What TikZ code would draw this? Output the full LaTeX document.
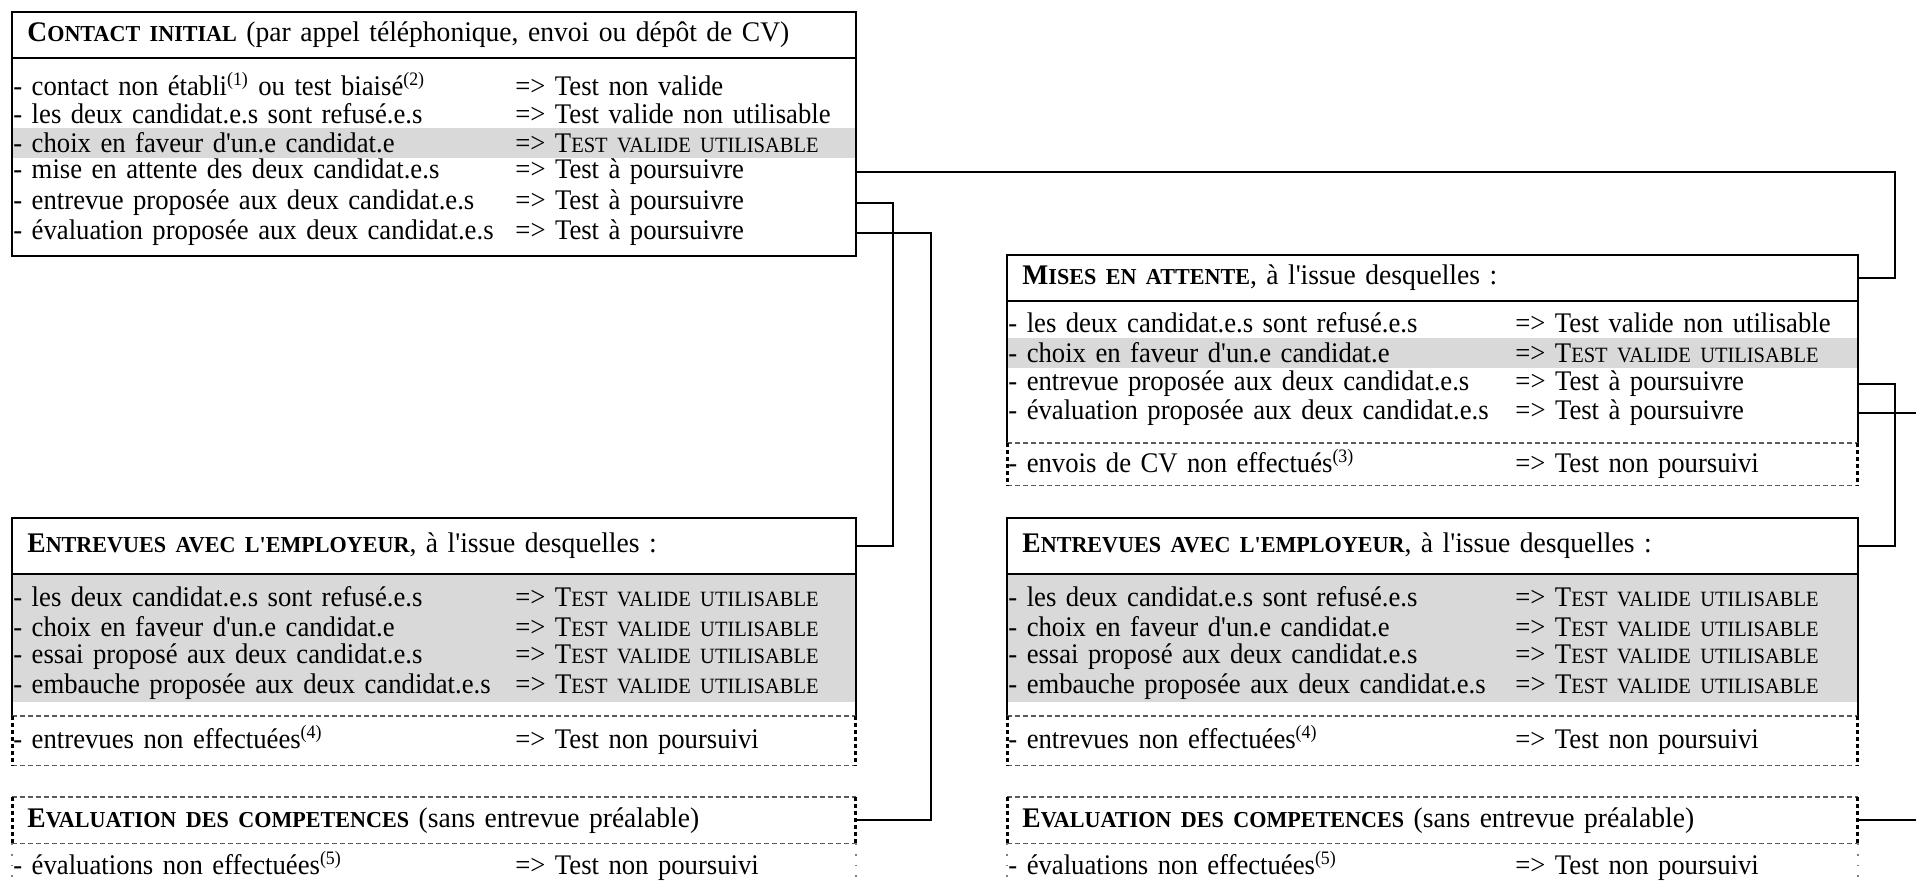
\documentclass[tikz,border=0pt]{standalone}
\usepackage{fontspec}
\newfontfamily\tnr{Liberation Serif}[FakeStretch=0.94]
\newfontfamily\tnrh{Liberation Serif}[FakeStretch=0.97]
\definecolor{rowgray}{RGB}{217,217,217}
\newcommand\SCap[2]{#1{\fontsize{11.4}{12}\selectfont #2}}
\newcommand\SCapR[2]{#1{\fontsize{10.9}{12}\selectfont #2}}
\newcommand\TVU{\SCapR{T}{EST VALIDE UTILISABLE}}
\newcommand\fnr[1]{\textsuperscript{\fontsize{9.5}{10}\selectfont(#1)}}
\newcommand\colL[1]{\makebox[251pt][l]{#1}}
\newcommand\colR[1]{\makebox[253.5pt][l]{#1}}
\tikzset{
  txt/.style={font=\tnr\fontsize{14.2}{15}\selectfont},
  htxt/.style={font=\tnrh\fontsize{14.2}{15}\selectfont},
  frame/.style={inner sep=0, anchor=north west},
  solidline/.style={line width=1pt},
  conn/.style={line width=1pt},
  hdrL/.style={htxt, anchor=north west, inner xsep=7.5pt, inner ysep=0, text width=406.5pt, align=left},
  hdrR/.style={hdrL, text width=410pt},
  rowL/.style={txt, anchor=west, inner xsep=0.5pt, inner ysep=0, text width=420.5pt, minimum height=15pt, align=left},
  rowR/.style={rowL, text width=424pt},
  dashH/.style={draw=black!65, line width=0.6pt, dash pattern=on 2.5pt off 1.5pt},
  dashV/.style={draw=black, line width=1.5pt, dash pattern=on 2pt off 1.5pt},
  dotV/.style={draw=black!50, line width=0.9pt, dash pattern=on 0.9pt off 4.5pt},
}
\begin{document}
\begin{tikzpicture}[x=0.5pt,y=-0.5pt]
\useasboundingbox (0,0) rectangle (1916,883);
\clip (0,0) rectangle (1916,883);

% ---------- CONTACT INITIAL ----------
\node[frame, minimum width=421.5pt, minimum height=121.5pt] (ci) at (12,12) {};
\node[hdrL, minimum height=22.5pt] (cih) at (12,12) {\textbf{\SCap{C}{ONTACT INITIAL}} (par appel téléphonique, envoi ou dépôt de CV)};
\node[rowL] (cir1) at (12,84) {\colL{- contact non établi\fnr{1} ou test biaisé\fnr{2}}=> Test non valide};
\node[rowL] (cir2) at (12,114) {\colL{- les deux candidat.e.s sont refusé.e.s}=> Test valide non utilisable};
\node[rowL, fill=rowgray] (cir3) at (12,143) {\colL{- choix en faveur d'un.e candidat.e}=> \TVU};
\node[rowL] (cir4) at (12,172) {\colL{- mise en attente des deux candidat.e.s}=> Test à poursuivre};
\node[rowL] (cir5) at (12,203) {\colL{- entrevue proposée aux deux candidat.e.s}=> Test à poursuivre};
\node[rowL] (cir6) at (12,233) {\colL{- évaluation proposée aux deux candidat.e.s}=> Test à poursuivre};
\draw[solidline] (ci.north west) rectangle (ci.south east);
\draw[solidline] (cih.south west) -- (cih.south east);

% ---------- MISES EN ATTENTE ----------
\node[frame, minimum width=425pt, minimum height=94pt] (ma) at (1007,255) {};
\node[hdrR, minimum height=22.5pt] (mah) at (1007,255) {\textbf{\SCap{M}{ISES EN ATTENTE}}, à l'issue desquelles :};
\node[rowR] (mar1) at (1007,323) {\colR{- les deux candidat.e.s sont refusé.e.s}=> Test valide non utilisable};
\node[rowR, fill=rowgray] (mar2) at (1007,353) {\colR{- choix en faveur d'un.e candidat.e}=> \TVU};
\node[rowR] (mar3) at (1007,384) {\colR{- entrevue proposée aux deux candidat.e.s}=> Test à poursuivre};
\node[rowR] (mar4) at (1007,413) {\colR{- évaluation proposée aux deux candidat.e.s}=> Test à poursuivre};
\draw[solidline] (ma.south west) -- (ma.north west) -- (ma.north east) -- (ma.south east);
\draw[solidline] (mah.south west) -- (mah.south east);
\node[frame, minimum width=425pt, minimum height=21pt] (mad) at (1007,443) {};
\node[rowR] (mad1) at (1007,464) {\colR{- envois de CV non effectués\fnr{3}}=> Test non poursuivi};
\draw[dashH] (mad.north west) -- (mad.north east) (mad.south west) -- (mad.south east);
\draw[dashV] (mad.north west) -- (mad.south west) (mad.north east) -- (mad.south east);

% ---------- ENTREVUES (gauche) ----------
\node[frame, minimum width=421.5pt, minimum height=99pt] (enl) at (12,518) {};
\node[frame, fill=rowgray, minimum width=421.5pt, minimum height=64.5pt] (enlg) at (12,573) {};
\node[hdrL, minimum height=27.5pt] (enlh) at (12,518) {\textbf{\SCap{E}{NTREVUES AVEC L'EMPLOYEUR}}, à l'issue desquelles :};
\node[rowL] (enlr1) at (12,597) {\colL{- les deux candidat.e.s sont refusé.e.s}=> \TVU};
\node[rowL] (enlr2) at (12,627) {\colL{- choix en faveur d'un.e candidat.e}=> \TVU};
\node[rowL] (enlr3) at (12,657) {\colL{- essai proposé aux deux candidat.e.s}=> \TVU};
\node[rowL] (enlr4) at (12,687) {\colL{- embauche proposée aux deux candidat.e.s}=> \TVU};
\draw[solidline] (enl.south west) -- (enl.north west) -- (enl.north east) -- (enl.south east);
\draw[solidline] (enlh.south west) -- (enlh.south east);
\node[frame, minimum width=421.5pt, minimum height=24.5pt] (enld) at (12,716) {};
\node[rowL] (enld1) at (12,740) {\colL{- entrevues non effectuées\fnr{4}}=> Test non poursuivi};
\draw[dashH] (enld.north west) -- (enld.north east) (enld.south west) -- (enld.south east);
\draw[dashV] (enld.north west) -- (enld.south west) (enld.north east) -- (enld.south east);

% ---------- EVALUATION (gauche) ----------
\node[hdrL, minimum height=23pt] (evlh) at (12,797) {\textbf{\SCap{E}{VALUATION DES COMPETENCES}} (sans entrevue préalable)};
\node[frame, minimum width=421.5pt, minimum height=28.5pt] (evlb) at (12,843) {};
\node[rowL] (evlr1) at (12,866) {\colL{- évaluations non effectuées\fnr{5}}=> Test non poursuivi};
\draw[dashH] (evlh.north west) -- (evlh.north east) (evlh.south west) -- (evlh.south east);
\draw[dashV] (evlh.north west) -- (evlh.south west) (evlh.north east) -- (evlh.south east);
\draw[dotV] (evlb.north west) -- (evlb.south west) (evlb.north east) -- (evlb.south east);

% ---------- ENTREVUES (droite) ----------
\node[frame, minimum width=425pt, minimum height=99pt] (enr) at (1007,518) {};
\node[frame, fill=rowgray, minimum width=425pt, minimum height=64.5pt] (enrg) at (1007,573) {};
\node[hdrR, minimum height=27.5pt] (enrh) at (1007,518) {\textbf{\SCap{E}{NTREVUES AVEC L'EMPLOYEUR}}, à l'issue desquelles :};
\node[rowR] (enrr1) at (1007,597) {\colR{- les deux candidat.e.s sont refusé.e.s}=> \TVU};
\node[rowR] (enrr2) at (1007,627) {\colR{- choix en faveur d'un.e candidat.e}=> \TVU};
\node[rowR] (enrr3) at (1007,657) {\colR{- essai proposé aux deux candidat.e.s}=> \TVU};
\node[rowR] (enrr4) at (1007,687) {\colR{- embauche proposée aux deux candidat.e.s}=> \TVU};
\draw[solidline] (enr.south west) -- (enr.north west) -- (enr.north east) -- (enr.south east);
\draw[solidline] (enrh.south west) -- (enrh.south east);
\node[frame, minimum width=425pt, minimum height=24.5pt] (enrd) at (1007,716) {};
\node[rowR] (enrd1) at (1007,740) {\colR{- entrevues non effectuées\fnr{4}}=> Test non poursuivi};
\draw[dashH] (enrd.north west) -- (enrd.north east) (enrd.south west) -- (enrd.south east);
\draw[dashV] (enrd.north west) -- (enrd.south west) (enrd.north east) -- (enrd.south east);

% ---------- EVALUATION (droite) ----------
\node[hdrR, minimum height=23pt] (evrh) at (1007,797) {\textbf{\SCap{E}{VALUATION DES COMPETENCES}} (sans entrevue préalable)};
\node[frame, minimum width=425pt, minimum height=28.5pt] (evrb) at (1007,843) {};
\node[rowR] (evrr1) at (1007,866) {\colR{- évaluations non effectuées\fnr{5}}=> Test non poursuivi};
\draw[dashH] (evrh.north west) -- (evrh.north east) (evrh.south west) -- (evrh.south east);
\draw[dashV] (evrh.north west) -- (evrh.south west) (evrh.north east) -- (evrh.south east);
\draw[dotV] (evrb.north west) -- (evrb.south west) (evrb.north east) -- (evrb.south east);

% ---------- connecteurs ----------
\coordinate (jA) at (1895,0);
\coordinate (jB) at (893,0);
\coordinate (jC) at (931,0);
\coordinate (jD) at (1940,0);
\draw[conn] (cir4.east) -| (jA |- mah.east) -- (mah.east);
\draw[conn] (cir5.east) -| (jB |- enlh.east) -- (enlh.east);
\draw[conn] (cir6.east) -| (jC |- evlh.east) -- (evlh.east);
\draw[conn] (mar3.east) -| (jA |- enrh.east) -- (enrh.east);
\draw[conn] (mar4.east) -| (jD |- evrh.east) -- (evrh.east);
\end{tikzpicture}
\end{document}
